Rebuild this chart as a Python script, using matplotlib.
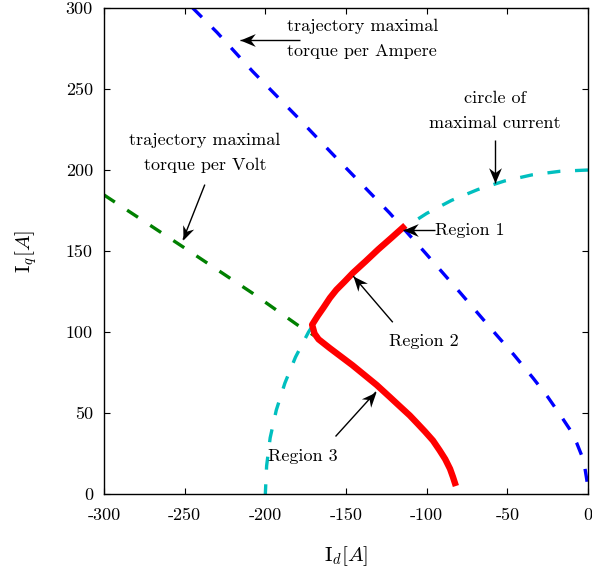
import matplotlib
matplotlib.use("Agg")
import numpy as np
import matplotlib.pyplot as plt
from matplotlib.path import Path

plt.rcParams['font.family'] = ['cmr10', 'DejaVu Serif']
plt.rcParams['mathtext.fontset'] = 'cm'
plt.rcParams['axes.unicode_minus'] = False
plt.rcParams['axes.formatter.use_mathtext'] = False

# MTPA trajectory (blue dashed)
mtpa_id = [-245, -230, -208, -180, -158, -123, -101, -79, -57, -46, -34, -25, -17,
           -11, -7, -4, -2, -0.7, 0]
mtpa_iq = [300, 285, 261, 232.5, 209.5, 173.5, 149, 124, 98.5, 86, 71.5, 60, 48.5,
           39.5, 31.5, 24, 16.5, 8.5, 0]

# circle of maximal current (cyan dashed)
circ_id = [0, -17.4, -34.7, -51.8, -68.4, -84.5, -100, -114.7, -128.6, -141.4,
           -153.2, -163.8, -173.2, -181.3, -187.9, -193.2, -197.0, -199.2, -200]
circ_iq = [200, 199.2, 197.0, 193.2, 187.9, 181.3, 173.2, 163.8, 153.2, 141.4,
           128.6, 114.7, 100, 84.5, 68.4, 51.8, 34.7, 17.4, 0]

# MTPV trajectory (green dashed)
mtpv_id = [-300, -251, -208, -180, -170]
mtpv_iq = [184.6, 152.5, 124, 104.3, 98]

# operating trajectory (red)
op_id = [-114.7, -122, -130, -138, -145.7, -151, -156, -160, -164, -167.5, -171,
         -169.5, -167, -160, -152, -146, -138, -131, -123, -116.5, -110.5, -106,
         -101, -96.1, -92, -88.5, -85.5, -83.7, -82.5]
op_iq = [164.5, 158, 151, 143.5, 136.5, 131, 126, 121, 115, 110, 104.5,
         99, 95.5, 90, 84, 79.5, 73, 67.3, 60, 54, 48.5, 43.8,
         38.5, 33, 27, 21.5, 15.5, 10.5, 6.8]

x_ticks = [-300, -250, -200, -150, -100, -50, 0]
y_ticks = [0, 50, 100, 150, 200, 250, 300]

fig = plt.figure(figsize=(5.92, 5.70), dpi=100)
ax = fig.add_axes([104/592, 76/570, 484/592, 486/570])

dash = (0, (3.9, 4.4))
ax.plot(mtpa_id, mtpa_iq, color='#0000ff', lw=2.4, ls=dash)
ax.plot(circ_id, circ_iq, color='#00bfbf', lw=2.4, ls=dash)
ax.plot(mtpv_id, mtpv_iq, color='#008000', lw=2.4, ls=dash)
ax.plot(op_id, op_iq, color='#ff0000', lw=4.6, solid_joinstyle='round')

ax.set_xlim(-300, 0)
ax.set_ylim(0, 300)
ax.set_xticks(x_ticks)
ax.set_yticks(y_ticks)
ax.set_xticklabels([str(v) for v in x_ticks])
ax.set_yticklabels([str(v) for v in y_ticks])
ax.tick_params(direction='in', length=4, width=0.8, top=True, right=True,
               labelsize=13)
ax.tick_params(axis='x', pad=10)
ax.tick_params(axis='y', pad=8)
for s in ax.spines.values():
    s.set_linewidth(1.0)

ax.set_xlabel(r'I$_d[A]$', fontsize=15, labelpad=15)
ax.set_ylabel(r'I$_q[A]$', fontsize=15, labelpad=19)

tkw = dict(fontsize=13, ha='center', va='center', linespacing=1.8)


def arrow(tail, head):
    ax.plot([tail[0], head[0]], [tail[1], head[1]], color='black', lw=1.0,
            solid_capstyle='butt')
    p0 = ax.transData.transform(tail)
    p1 = ax.transData.transform(head)
    ang = np.arctan2(p1[1] - p0[1], p1[0] - p0[0])
    base = np.array([(0, 0), (-1, 0.42), (-0.68, 0), (-1, -0.42), (0, 0)])
    c, s = np.cos(ang), np.sin(ang)
    rot = base @ np.array([[c, s], [-s, c]])
    path = Path(rot, [Path.MOVETO, Path.LINETO, Path.LINETO, Path.LINETO,
                      Path.CLOSEPOLY])
    ax.plot([head[0]], [head[1]], marker=path, markersize=22, color='black',
            markeredgewidth=0, linestyle='none')


ax.text(-140, 281, 'trajectory maximal\ntorque per Ampere', **tkw)
arrow((-178.5, 280), (-216, 280))

ax.text(-237.5, 210.5, 'trajectory maximal\ntorque per Volt', **tkw)
arrow((-237.5, 191), (-251, 157))

ax.text(-57.5, 236.5, 'circle of\nmaximal current', **tkw)
arrow((-57.5, 218.5), (-57.5, 192))

ax.text(-95, 163, 'Region 1', fontsize=13, ha='left', va='center')
arrow((-95, 163), (-114.5, 163))

ax.text(-102, 94, 'Region 2', fontsize=13, ha='center', va='center')
arrow((-121, 106), (-145.5, 134.5))

ax.text(-177, 23, 'Region 3', fontsize=13, ha='center', va='center')
arrow((-156.5, 35.5), (-131.5, 63))

fig.savefig('out.png', dpi=100)
